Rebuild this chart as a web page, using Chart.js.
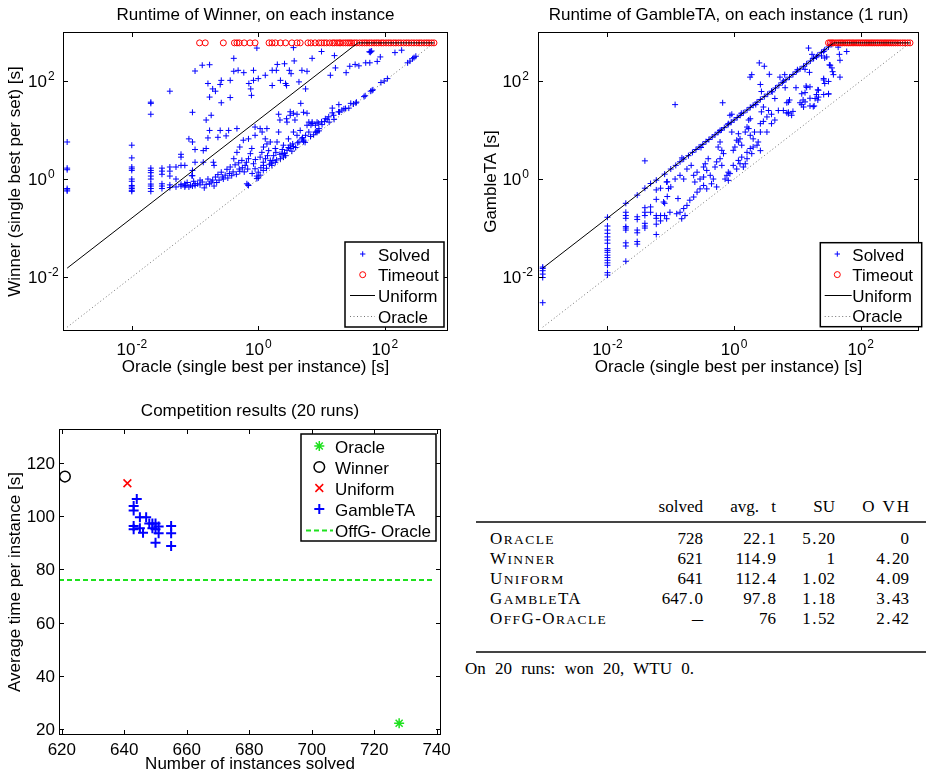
<!DOCTYPE html>
<html>
<head>
<meta charset="utf-8">
<title>Runtime comparison</title>
<script src="https://cdn.jsdelivr.net/npm/chart.js@4.4.1/dist/chart.umd.min.js"></script>
<style>
  html, body { margin: 0; padding: 0; background: #fff; }
  body { position: relative; width: 926px; height: 775px; overflow: hidden; }
  canvas { position: absolute; }
  .tcell { position: absolute; font-family: "Liberation Serif", "Times New Roman", serif; font-size: 17px;
           line-height: 20px; white-space: pre; color: #000; }
  .sc { letter-spacing: 1.4px; }
  .scl { font-size: 13.5px; }
  .dp { margin: 0 1.5px; }
  .rule { position: absolute; left: 476px; width: 450px; height: 2px; background: #444; }
</style>
</head>
<body>
<canvas id="winnerChart" width="463" height="390" style="left:0;top:0"></canvas>
<canvas id="gambleChart" width="463" height="390" style="left:463px;top:0"></canvas>
<canvas id="competitionChart" width="463" height="380" style="left:0;top:395px"></canvas>
<div id="resultsTable"></div>
<script>
"use strict";

// runtimes in seconds: [oracle, winner]
const winnerSolved = [
  [0.00095,5.7],[0.00095,1.67],[0.00095,1.55],[0.00095,0.64],[0.00095,0.6],[0.00095,0.57],
  [0.01,4.9],[0.01,2.7],[0.01,1.76],[0.01,1.62],[0.01,1.5],[0.01,1.0],[0.01,0.9],[0.01,0.74],[0.01,0.69],[0.01,0.64],[0.01,0.59],[0.01,0.56],
  [0.02,37],[0.02,35],[0.02,21],[0.02,1.67],[0.02,1.5],[0.02,1.35],[0.02,1.15],[0.02,1.0],[0.02,0.79],[0.02,0.72],[0.02,0.64],[0.02,0.56],
  [0.03,1.67],[0.03,1.45],[0.03,1.25],[0.03,0.8],[0.03,0.72],[0.03,0.64],
  [0.04,62],[0.04,1.76],[0.04,1.45],[0.04,1.15],[0.04,0.76],[0.04,0.67],
  [0.05,1.76],[0.05,1.0],[0.05,0.69],
  [0.06,3.2],[0.06,2.8],[0.06,1.9],[0.06,0.72],[0.06,0.78],
  [0.069,1.9],[0.069,0.8],[0.069,0.69],[0.075,0.85],
  [0.08,6.6],[0.08,0.69],[0.085,0.75],
  [0.091,23],[0.091,5.7],[0.091,1.5],[0.091,1.17],[0.091,0.72],[0.095,0.9],
  [0.1,160],[0.1,4.0],[0.1,2.2],[0.1,0.8],
  [0.95,470],[0.41,290],[0.13,210],[0.17,215],[0.41,158],[0.48,165],[0.59,148],[0.84,165],[1.66,165],[1.93,165],
  [3.1,165],[3.3,141],[4.9,165],[5.9,158],[2.0,218],[2.6,225],[3.7,257],[3.6,480],[7.1,290],
  [0.26,103],[0.36,103],[0.16,89],[0.19,69],[0.21,62],[0.25,85],[0.71,89],[0.76,69],[0.84,103],[1.0,112],
  [1.29,131],[1.66,81],[2.24,103],[2.7,89],[2.8,81],[4.4,96],[5.6,69],[0.78,51],[0.17,47],[0.26,36],[0.36,46],
  [4.7,35],[0.15,16],[0.18,20],
  [0.17,9.8],[0.25,9.8],[0.34,9.8],[0.46,10.7],[0.89,11.5],[1.15,9.1],[0.16,6.9],[0.23,7.1],[0.31,7.6],
  [0.135,3.8],[0.15,4.2],[0.135,2.2],[0.195,2.2],[0.2,1.9],
  [2.1,21],[2.2,16],[2.85,14.5],[3.2,23.6],[4.1,21],[5.2,23],[6.3,14.5],[7.1,14.5],[8.5,14.5],[3.6,22],[3.2,20],
  [2.8,17],[3.8,16],[5.9,22],
  [0.089,1.17],[0.1,0.74],[0.11,0.8],[0.13,0.87],[0.14,0.66],[0.16,1.0],[0.18,0.87],[0.21,1.1],[0.23,1.23],
  [0.26,1.38],[0.28,1.0],[0.32,1.58],[0.36,1.76],[0.38,1.17],[0.43,1.95],[0.49,2.14],[0.51,1.44],[0.55,2.4],
  [0.62,1.9],[0.70,2.6],[0.75,3.3],[0.79,4.2],[0.84,2.05],[0.89,1.62],[0.95,1.15],[1.0,1.05],[0.70,0.74],
  [1.07,2.8],[1.14,3.5],[1.21,4.5],[1.29,6.6],[1.37,5.2],[1.46,3.8],[1.55,2.4],[1.64,1.9],[1.75,3.0],[1.86,4.2],
  [1.98,5.7],[2.1,9.1],[2.24,2.6],[2.37,3.3],[2.5,4.9],[2.85,3.85],[3.0,6.6],[3.2,4.9],[3.4,3.7],[3.6,9.1],
  [4.1,7.8],[4.4,5.7],[4.6,9.8],[5.2,6.2],[5.6,7.8],[5.9,12.5],[6.7,7.4],[8.0,9.1],[9.1,10.7],[1.37,10.7],
  [1.07,10.7],[0.89,7.8],[0.70,6.6],[0.58,6.2],[0.51,4.5],[0.46,3.5],[0.41,2.6],[1.0,1.38],[1.21,1.9],[1.55,5.7],
  [1.86,2.2],[2.7,3.0],[3.9,4.4],[4.9,6.6],[6.3,9.1],[8.0,12.5],[9.1,9.6],
  [0.07,0.74],[0.12,0.76],[0.12,0.95],[0.15,0.78],[0.17,0.8],[0.19,0.95],[0.2,0.72],[0.22,0.85],[0.24,0.95],
  [0.27,1.1],[0.3,1.2],[0.33,1.05],[0.35,1.3],[0.4,1.4],[0.45,1.25],[0.5,1.6],[0.56,1.7],[0.6,1.4],[0.65,2.2],
  [0.68,1.6],[0.8,1.3],[0.9,2.5],[1.1,1.7],[1.2,2.2],[1.3,2.6],[1.4,3.0],[1.5,2.0],[1.7,2.4],[1.9,3.5],[2.2,3.2],
  [2.4,4.0],[2.6,3.4],[3.0,4.4],[3.5,5.2],[4.2,5.5],[5.0,7.0],
  [2.6,3.3],[2.5,2.8],[1.95,2.45],[1.62,2.1],[1.35,1.66],[1.2,1.5],[1.07,1.2],[0.95,1.02],[0.69,0.76],[0.66,0.8],
  [3.6,4.6],[3.2,4.2],[5.5,5.6],[5.2,5.8],[7.5,8.0],[8.5,9.0],
  [7.1,13.6],[6.8,12.6],[10,14.7],[11.5,17],[13,18.6],[15.5,20],[18.6,23.5],[21,25.5],[24,27.5],[29,35],[35,35.5],
  [10,400],[16,330],[60,400],[59,385],[62,410],[57,395],[85,310],[145,380],[185,425],[310,320],[290,300],[275,285],
  [16.6,185],[13.8,131],[24.5,148],[28,200],[34,218],[39,204],[50,235],[58,235],[76,251],
  [87,93],[98,100],[110,112],[60,62],[65,66],[49,50],[35.6,37],[32,34],[27,28],[22.6,27],[18.8,33],[19.3,23.4],
  [14.8,28],[14.8,22.4],[12.3,16.6],[11.2,15],[13.2,14.5],[15.8,16.5],[10.2,12.9],[8.5,9.5],[8.9,13.8],
  [47,48],[63,64],[230,235],[250,255]
];

// oracle runtimes of the instances the winner did not solve
const winnerTimeoutX = [
  0.118,0.145,0.28,0.42,0.46,0.5,0.6,0.74,0.89,1.48,1.65,1.86,2.24,2.7,3.4,4.1,4.6,6.1,6.8,7.9,9.1,
  10,11,12,13.5,15,16,17.5,19,20,22,24,26,28,30,33,36,40,44,48,52,57,62,68,74,80,88,95,105,115,125,
  138,150,165,180,200,220,240,265,290,320,350,380,420,460,500,550,600
];

// runtimes in seconds: [oracle, GambleTA]
const gambleSolved = [
  [0.00095,0.016],[0.00095,0.015],[0.00095,0.0135],[0.00095,0.0115],[0.00095,0.0098],[0.00095,0.003],
  [0.01,0.166],[0.01,0.11],[0.01,0.091],[0.01,0.078],[0.01,0.066],[0.01,0.057],[0.01,0.049],[0.01,0.038],
  [0.01,0.035],[0.01,0.032],[0.01,0.028],[0.01,0.025],[0.01,0.022],[0.01,0.0195],[0.01,0.0174],[0.01,0.0123],[0.01,0.011],
  [0.0195,0.32],[0.0195,0.21],[0.0195,0.18],[0.0195,0.158],[0.0195,0.107],[0.0195,0.1],[0.0195,0.091],
  [0.0195,0.05],[0.0195,0.043],[0.0195,0.021],
  [0.0295,0.47],[0.0295,0.17],[0.0295,0.15],[0.0295,0.091],[0.0295,0.08],[0.0295,0.053],[0.0295,0.047],
  [0.039,2.35],[0.039,0.65],[0.039,0.26],[0.039,0.21],[0.039,0.18],[0.039,0.125],[0.039,0.11],[0.039,0.1],
  [0.048,0.81],[0.048,0.27],[0.048,0.21],
  [0.059,0.95],[0.059,0.6],[0.059,0.385],[0.059,0.18],[0.059,0.158],[0.059,0.12],[0.059,0.074],
  [0.069,0.65],[0.069,0.18],[0.069,0.14],[0.08,1.26],[0.08,0.32],[0.08,0.18],[0.088,0.88],[0.088,0.44],
  [0.1,1.6],[0.12,1.9],[0.14,2.25],[0.16,2.55],[0.19,3.0],[0.22,3.5],[0.25,4.0],[0.28,4.5],[0.32,5.1],[0.36,5.8],
  [0.4,6.4],[0.45,7.2],[0.5,8.0],[0.56,9.0],[0.63,10],[0.7,11.2],[0.8,12.8],[0.9,14.4],[1.0,16],[1.12,18],
  [1.25,20],[1.4,22.4],[1.6,25.6],[1.8,29],[2.0,32],[2.3,37],[2.6,42],[3.0,48],[3.4,54],[3.9,62],[4.5,72],
  [5.1,82],[5.8,93],[6.6,106],[7.5,120],[8.5,136],[9.6,154],[11,176],[12.5,200],[14,224],[16,256],[18,288],
  [21,336],[24,384],[27,432],[31,496],[35,560],
  [0.15,2.7],[0.3,4.4],[0.6,9.8],[1.3,22],[2.2,33],[4.0,60],[6.0,100],[10,170],[20,310],[26,400],
  [0.117,33],[0.66,36],[2.5,234],[3.0,200],[1.79,120],[1.9,135],[3.6,137],[2.6,85],[2.7,61],[5.3,120],[6.3,135],
  [4.4,44],[7.2,37],[7.2,23],[5.0,25],[3.5,25],[3.9,21],[3.3,18.5],[2.9,29.5],[2.7,23.5],[4.4,16],[3.9,13.5],
  [3.3,9.1],[2.6,9.1],[2.1,9.1],[1.7,16],[1.8,17],[1.7,10.7],[1.5,9.1],[1.6,11.5],[1.8,7.8],[2.0,6.6],[2.4,5.7],
  [2.3,4.9],[2.0,4.5],[2.6,3.8],[1.17,8.4],[1.24,6.6],[0.92,9.1],[0.86,20],[0.92,21],[0.81,13.5],[1.1,6.2],
  [1.17,5.7],[1.03,4.5],[0.97,3.85],[1.6,3.5],[1.32,2.8],[1.17,2.4],[1.24,2.05],[1.4,1.76],[1.1,1.6],[0.97,1.9],
  [0.81,1.38],[0.77,1.19],[0.72,1.0],[0.81,0.94],[0.86,1.29],[0.6,5.7],[0.56,4.5],[0.64,3.85],[0.68,3.3],
  [0.6,2.6],[0.53,2.24],[0.64,1.9],[0.5,1.76],[0.39,2.6],[0.35,2.05],[0.33,1.76],[0.37,1.5],[0.42,1.19],
  [0.47,1.0],[0.44,0.8],[0.53,0.69],[0.37,0.63],[0.33,0.74],[0.29,0.63],[0.26,0.54],[0.23,0.43],[0.2,0.37],
  [0.18,0.29],[0.16,0.25],[0.14,0.21],[0.124,0.196],[0.168,0.18],[0.149,0.155],[0.13,0.4],[0.097,0.21],
  [0.086,0.155],[0.077,0.34],[0.092,0.64],[0.10,0.69],[0.086,0.87],[0.117,1.0],[0.14,1.19],[0.16,1.0],
  [0.18,1.6],[0.21,1.9],[0.26,1.38],[0.23,1.19],[0.29,1.0],[0.33,1.1],[0.24,0.87],[2.6,13.5],[2.9,15],
  [1.8,4.2],[1.9,3.3],[1.6,2.6],[1.5,2.05],[1.32,4.9],
  [15,470],[44,490],[46,350],[47,265],[60,400],[33,210],[35,185],[37,135],[47,120],[17,350],[18,295],[24,325],
  [27,295],[29,310],[13.2,173],[15.5,150],[6.4,73],[9.5,73],[13.7,79],[15.8,76],[13.2,58],[11.7,55],[26,112],
  [31,98],[27,89],[21.5,65],[20,53],[26,53],[31,55],[7.5,41],[6.8,36],[11,36],[13.2,37.5],[15.8,31],[18.4,31],
  [12.5,29.5],[11.7,33],[6.0,25],[6.8,22.4],[8.5,24],[8.1,20],[7.2,21.5],[19,44],[21.5,47],
  [32,213],[36,155],[26,105],[31,54],[21,66],[14,74],[12.3,41],[15.8,44.5],[17.8,30],[21,41]
];

const gambleTimeoutX = [
  31,33,35,37,40,43,46,49,52,56,60,64,68,73,78,84,90,96,103,110,118,126,135,145,155,166,178,190,
  204,218,234,250,268,287,307,330,355,385,420,460,500,550,600
];

const timeoutLimit = 600;
const uniformCurve = [[0.00095, 0.0152], [37.5, 600], [600, 600]];
const oracleDiagonal = [[0.00095, 0.00095], [600, 600]];

// competition results over 20 runs
const tableHead = ['solved', 'avg. t', 'SU', 'O VH'];
const tableNames = ['Oracle', 'Winner', 'Uniform', 'GambleTA', 'OffG-Oracle'];
const solvedCol = ['728', '621', '641', '647.0', '\u2013'];
const avgTimeCol = ['22.1', '114.9', '112.4', '97.8', '76'];
const speedupCol = ['5.20', '1', '1.02', '1.18', '1.52'];
const overheadCol = ['0', '4.20', '4.09', '3.43', '2.42'];
const footNote = 'On 20 runs: won 20, WTU 0.';

// [instances solved, average time] for each GambleTA run
const gambleRuns = [
  [644,106.5],[643,103.8],[643,102.1],[645,99.6],[647,99.6],[643,96.3],[643,95.1],[645,95.5],[646,93.8],
  [648,97.3],[649,97.3],[650,97.3],[649,95.5],[650,95.1],[651,96.1],[651,93.6],[650,90.0],[655,96.3],
  [655,93.6],[655,88.8]
];

const SANS = '"Liberation Sans", Arial, Helvetica, sans-serif';
const BLUE = 'rgb(0,0,255)';
const RED = 'rgb(255,0,0)';
const GREEN = 'rgb(30,225,30)';
const DOTTED = 'rgba(0,0,0,0.55)';

const toPoints = list => list.map(([x, y]) => ({ x, y }));
const atTimeout = xs => xs.map(x => ({ x, y: timeoutLimit }));

function drawMark(ctx, kind, x, y, r, color, lw) {
    ctx.save();
    ctx.strokeStyle = color;
    ctx.lineWidth = lw;
    ctx.beginPath();
    if (kind === 'cross' || kind === 'star') {
        ctx.moveTo(x - r, y); ctx.lineTo(x + r, y);
        ctx.moveTo(x, y - r); ctx.lineTo(x, y + r);
    }
    if (kind === 'crossRot' || kind === 'star') {
        const d = r * Math.SQRT1_2;
        ctx.moveTo(x - d, y - d); ctx.lineTo(x + d, y + d);
        ctx.moveTo(x - d, y + d); ctx.lineTo(x + d, y - d);
    }
    if (kind === 'circle') ctx.arc(x, y, r, 0, Math.PI * 2);
    ctx.stroke();
    ctx.restore();
}

// "10" with a raised exponent; align 'center' centres the whole label,
// align 'base' puts the right edge of "10" at x
function powerLabel(ctx, v, x, y, align) {
    const exp = String(Math.round(Math.log10(v)));
    ctx.font = '17px ' + SANS;
    const wb = ctx.measureText('10').width;
    ctx.font = '12px ' + SANS;
    const we = ctx.measureText(exp).width;
    const left = align === 'center' ? x - (wb + we + 1) / 2 : x - wb;
    ctx.textAlign = 'left';
    ctx.font = '17px ' + SANS;
    ctx.fillText('10', left, y);
    ctx.font = '12px ' + SANS;
    ctx.fillText(exp, left + wb + 1, y - 7);
}

// MATLAB-style box axes: frame, inward ticks, labels, titles and legend
function makeFrame(cfg) {
    return {
        id: 'axesFrame',
        afterDraw(chart) {
            const ctx = chart.ctx;
            const a = chart.chartArea;
            const xs = chart.scales.x, ys = chart.scales.y;
            ctx.save();
            ctx.strokeStyle = '#000';
            ctx.lineWidth = 1;
            ctx.strokeRect(a.left + 0.5, a.top + 0.5, a.right - a.left - 1, a.bottom - a.top - 1);
            ctx.beginPath();
            cfg.xTicks.forEach(v => {
                const x = Math.round(xs.getPixelForValue(v)) + 0.5;
                ctx.moveTo(x, a.bottom); ctx.lineTo(x, a.bottom - 5);
                ctx.moveTo(x, a.top); ctx.lineTo(x, a.top + 5);
            });
            cfg.yTicks.forEach(v => {
                const y = Math.round(ys.getPixelForValue(v)) + 0.5;
                ctx.moveTo(a.left, y); ctx.lineTo(a.left + 5, y);
                ctx.moveTo(a.right, y); ctx.lineTo(a.right - 5, y);
            });
            ctx.stroke();

            ctx.fillStyle = '#000';
            ctx.textBaseline = 'alphabetic';
            cfg.xTicks.forEach(v => {
                const x = xs.getPixelForValue(v);
                if (cfg.log) {
                    powerLabel(ctx, v, x, cfg.xLabelBaseline, 'center');
                } else {
                    ctx.font = '17px ' + SANS;
                    ctx.textAlign = 'center';
                    ctx.fillText(String(v), x, cfg.xLabelBaseline);
                }
            });
            cfg.yTicks.forEach(v => {
                const y = ys.getPixelForValue(v) + 6;
                if (cfg.log) {
                    powerLabel(ctx, v, a.left - cfg.yLabelGap, y, 'base');
                } else {
                    ctx.font = '17px ' + SANS;
                    ctx.textAlign = 'right';
                    ctx.fillText(String(v), a.left - cfg.yLabelGap, y);
                }
            });

            ctx.font = '17px ' + SANS;
            ctx.textAlign = 'center';
            const cx = (a.left + a.right) / 2;
            ctx.fillText(cfg.title, cx, cfg.titleBaseline);
            ctx.fillText(cfg.xTitle, cx, cfg.xTitleBaseline);
            ctx.save();
            ctx.translate(cfg.yTitleX, (a.top + a.bottom) / 2);
            ctx.rotate(-Math.PI / 2);
            ctx.fillText(cfg.yTitle, 0, 0);
            ctx.restore();

            const L = cfg.legend;
            const [l, t, r, b] = L.box;
            ctx.fillStyle = '#fff';
            ctx.fillRect(l, t, r - l, b - t);
            ctx.strokeStyle = '#000';
            ctx.lineWidth = 1.5;
            ctx.strokeRect(l, t, r - l, b - t);
            L.items.forEach((it, i) => {
                const y = L.firstY + i * L.step;
                if (it.dash) {
                    ctx.save();
                    ctx.strokeStyle = it.color;
                    ctx.lineWidth = it.lw;
                    ctx.setLineDash(it.dash);
                    ctx.beginPath();
                    ctx.moveTo(L.lineX[0], Math.round(y) + 0.5);
                    ctx.lineTo(L.lineX[1], Math.round(y) + 0.5);
                    ctx.stroke();
                    ctx.restore();
                } else {
                    drawMark(ctx, it.kind, L.markX, y, it.r, it.color, it.lw);
                }
                ctx.fillStyle = '#000';
                ctx.textAlign = 'left';
                ctx.font = '17px ' + SANS;
                ctx.fillText(it.label, L.textX, y + 6.5);
            });
            ctx.restore();
        }
    };
}

const baseOptions = padding => ({
    responsive: false,
    animation: false,
    events: [],
    layout: { padding },
    plugins: { legend: { display: false }, tooltip: { enabled: false } }
});

function runtimeChart(canvasId, solved, timeoutX, xMin, xMax, padding, frame) {
    const options = baseOptions(padding);
    options.scales = {
        x: { type: 'logarithmic', min: xMin, max: xMax, display: false },
        y: { type: 'logarithmic', min: 0.000794, max: 1000, display: false }
    };
    return new Chart(document.getElementById(canvasId), {
        type: 'scatter',
        data: {
            datasets: [
                { label: 'Oracle', data: toPoints(oracleDiagonal), showLine: true, pointRadius: 0,
                  borderColor: DOTTED, borderWidth: 1, borderDash: [1, 2.5], order: 0 },
                { label: 'Uniform', data: toPoints(uniformCurve), showLine: true, pointRadius: 0,
                  borderColor: '#000', borderWidth: 1, order: 1 },
                { label: 'Timeout', data: atTimeout(timeoutX), pointStyle: 'circle', pointRadius: 3,
                  pointBorderColor: RED, pointBackgroundColor: 'rgba(0,0,0,0)', pointBorderWidth: 1, order: 2 },
                { label: 'Solved', data: toPoints(solved), pointStyle: 'cross', pointRadius: 3,
                  pointBorderColor: BLUE, pointBorderWidth: 1, order: 3 }
            ]
        },
        options,
        plugins: [makeFrame(frame)]
    });
}

const runtimeLegendItems = [
    { label: 'Solved', kind: 'cross', r: 2.7, color: BLUE, lw: 1 },
    { label: 'Timeout', kind: 'circle', r: 3, color: RED, lw: 1 },
    { label: 'Uniform', dash: [], color: '#000', lw: 1 },
    { label: 'Oracle', dash: [1, 2.5], color: DOTTED, lw: 1 }
];

runtimeChart('winnerChart', winnerSolved, winnerTimeoutX, 0.000817, 1000,
    { left: 63, right: 15, top: 32, bottom: 59 },
    {
        log: true, xTicks: [0.01, 1, 100], yTicks: [0.01, 1, 100],
        xLabelBaseline: 355, yLabelGap: 16,
        title: 'Runtime of Winner, on each instance', titleBaseline: 19.5,
        xTitle: 'Oracle (single best per instance) [s]', xTitleBaseline: 372,
        yTitle: 'Winner (single best per set) [s]', yTitleX: 20,
        legend: { box: [345, 242, 444, 327], markX: 362.7, lineX: [350, 375], textX: 378,
                  firstY: 254, step: 20.7, items: runtimeLegendItems }
    });

runtimeChart('gambleChart', gambleSolved, gambleTimeoutX, 0.0008, 832,
    { left: 75, right: 7, top: 32, bottom: 59 },
    {
        log: true, xTicks: [0.01, 1, 100], yTicks: [0.01, 1, 100],
        xLabelBaseline: 355, yLabelGap: 16.7,
        title: 'Runtime of GambleTA, on each instance (1 run)', titleBaseline: 19.5,
        xTitle: 'Oracle (single best per instance) [s]', xTitleBaseline: 372,
        yTitle: 'GambleTA [s]', yTitleX: 33,
        legend: { box: [357.3, 242.7, 458.7, 326.7], markX: 374.3, lineX: [361.7, 388.7], textX: 389.3,
                  firstY: 254, step: 20.6, items: runtimeLegendItems }
    });

// competition scatter, fed from the same numbers as the table
const resultPoint = i => [{ x: Number(solvedCol[i]), y: Number(avgTimeCol[i]) }];
const offgTime = Number(avgTimeCol[4]);

(function competitionChart() {
    const options = baseOptions({ left: 59, right: 22, top: 34, bottom: 40 });
    options.scales = {
        x: { type: 'linear', min: 619.1, max: 741.4, display: false },
        y: { type: 'linear', min: 17.7, max: 132.8, display: false }
    };
    new Chart(document.getElementById('competitionChart'), {
        type: 'scatter',
        data: {
            datasets: [
                { label: 'Oracle', data: resultPoint(0), pointStyle: 'star', pointRadius: 5,
                  pointBorderColor: GREEN, pointBorderWidth: 1.5 },
                { label: 'Winner', data: resultPoint(1), pointStyle: 'circle', pointRadius: 5.3,
                  pointBorderColor: '#000', pointBackgroundColor: 'rgba(0,0,0,0)', pointBorderWidth: 1.5 },
                { label: 'Uniform', data: resultPoint(2), pointStyle: 'crossRot', pointRadius: 5.5,
                  pointBorderColor: RED, pointBorderWidth: 1.5 },
                { label: 'GambleTA', data: toPoints(gambleRuns), pointStyle: 'cross', pointRadius: 5,
                  pointBorderColor: BLUE, pointBorderWidth: 2 },
                { label: 'OffG- Oracle', data: [{ x: 619.1, y: offgTime }, { x: 739, y: offgTime }],
                  showLine: true, pointRadius: 0, borderColor: GREEN, borderWidth: 2, borderDash: [5, 3] }
            ]
        },
        options,
        plugins: [makeFrame({
            log: false, xTicks: [620, 640, 660, 680, 700, 720, 740], yTicks: [20, 40, 60, 80, 100, 120],
            xLabelBaseline: 359.5, yLabelGap: 4,
            title: 'Competition results (20 runs)', titleBaseline: 20.7,
            xTitle: 'Number of instances solved', xTitleBaseline: 374,
            yTitle: 'Average time per instance [s]', yTitleX: 20,
            legend: { box: [301, 39, 436, 146], markX: 319.3, lineX: [306, 333], textX: 335,
                      firstY: 51, step: 21, items: [
                { label: 'Oracle', kind: 'star', r: 5, color: GREEN, lw: 1.5 },
                { label: 'Winner', kind: 'circle', r: 5.3, color: '#000', lw: 1.5 },
                { label: 'Uniform', kind: 'crossRot', r: 5.5, color: RED, lw: 1.5 },
                { label: 'GambleTA', kind: 'cross', r: 5, color: BLUE, lw: 2 },
                { label: 'OffG- Oracle', dash: [5, 3], color: GREEN, lw: 2 }
            ] }
        })]
    });
})();

// results table
(function resultsTable() {
    const box = document.getElementById('resultsTable');
    const colRight = [703, 776, 835, 909];
    const num = s => s.replace('.', '<span class="dp">.</span>');
    // small capitals: lowercase runs set as smaller uppercase letters
    const smallCaps = s => s.replace(/[a-z]+/g, m => '<span class="scl">' + m.toUpperCase() + '</span>');
    function place(html, baseline, pos, cls) {
        const d = document.createElement('div');
        d.className = 'tcell' + (cls ? ' ' + cls : '');
        d.style.top = (baseline - 16) + 'px';
        if (pos.right !== undefined) {
            d.style.left = (pos.right - 160) + 'px';
            d.style.width = '160px';
            d.style.textAlign = 'right';
        } else {
            d.style.left = pos.left + 'px';
        }
        d.innerHTML = html;
        box.appendChild(d);
        return d;
    }
    function rule(top) {
        const r = document.createElement('div');
        r.className = 'rule';
        r.style.top = top + 'px';
        box.appendChild(r);
    }
    place(tableHead[0], 513, { right: colRight[0] });
    place(tableHead[1], 513, { right: colRight[1] }).style.wordSpacing = '8px';
    place(tableHead[2], 513, { right: colRight[2] });
    place(tableHead[3], 513, { right: colRight[3] + 2 }).style.letterSpacing = '2px';
    rule(520.5);
    tableNames.forEach((name, i) => {
        const y = 545 + 20 * i;
        place(smallCaps(name), y, { left: 490 }, 'sc');
        const s = place(num(solvedCol[i]), y, { right: colRight[0] });
        if (solvedCol[i] === '\u2013') { s.style.paddingRight = '4px'; s.style.fontSize = '22px'; }
        place(num(avgTimeCol[i]), y, { right: colRight[1] });
        place(num(speedupCol[i]), y, { right: colRight[2] });
        place(num(overheadCol[i]), y, { right: colRight[3] });
    });
    rule(651);
    place(footNote, 675, { left: 465 }).style.wordSpacing = '5px';
})();
</script>
</body>
</html>
